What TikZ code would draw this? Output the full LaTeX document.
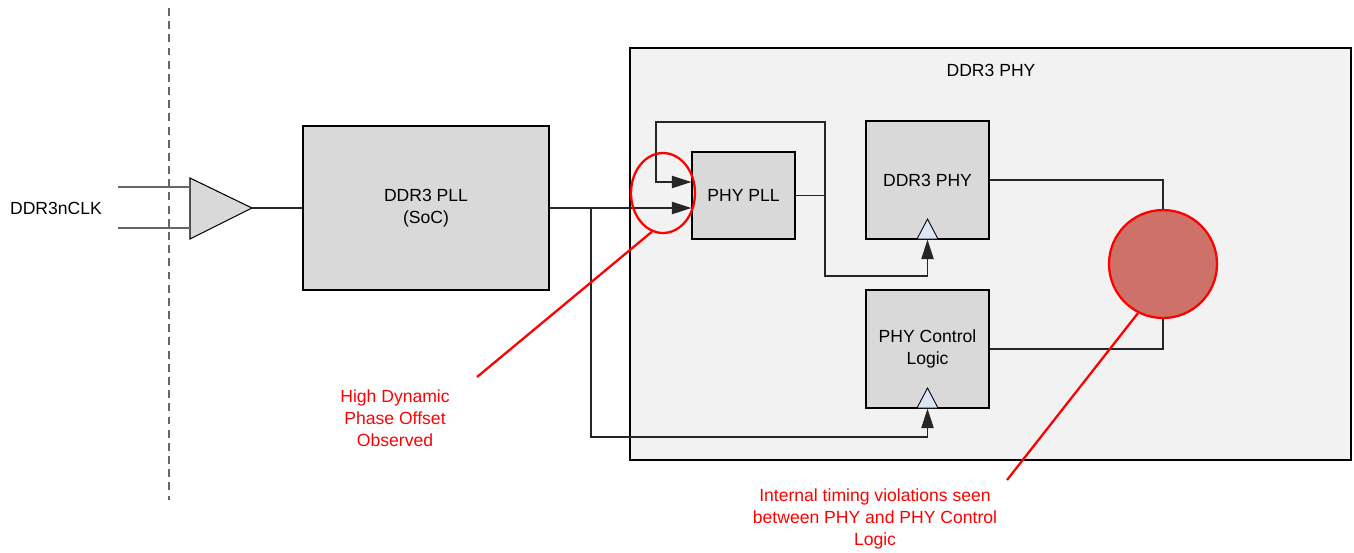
\documentclass[tikz,border=0pt]{standalone}
\usepackage{fontspec}
\setmainfont{Liberation Sans}
\usetikzlibrary{shapes,arrows.meta}
\definecolor{boxgray}{RGB}{217,217,217}
\definecolor{phygray}{RGB}{242,242,242}
\definecolor{clkblue}{RGB}{220,230,242}
\definecolor{hotspot}{RGB}{205,113,105}
\definecolor{warnred}{RGB}{255,0,0}

\begin{document}
\begin{tikzpicture}[x=0.02cm,y=-0.02cm,
  font=\fontsize{10}{12.5}\selectfont,
  block/.style={shape=rectangle,draw=black,fill=boxgray,align=center,inner sep=0pt,line width=0.8pt},
  bigblock/.style={block,line width=1.5pt},
  wire/.style={draw=black!85,line width=0.6pt},
  feed/.style={wire,-{Triangle[length=11pt,width=7pt]}},
  clk/.style={draw=black,fill=clkblue,line width=0.5pt},
  note/.style={align=center,text=warnred},
  redmark/.style={draw=warnred,line width=1.3pt}]
\useasboundingbox (0,0) rectangle (1354,552);

\node[shape=rectangle,draw=black,fill=phygray,inner sep=0pt,line width=1.6pt,minimum width=14.42cm,minimum height=8.24cm] (5) at (990.5,254) {};
\node (20) at (991,70) {DDR3 PHY};

\draw[draw=black!60,line width=0.6pt,dash pattern=on 4.5pt off 3pt] (169,8) -- (169,500);

\node (0) at (56,208) {DDR3nCLK};
\coordinate (1a) at (118,187);
\coordinate (1b) at (118,228);
\coordinate (2) at (252,208);
\draw[draw=black,fill=boxgray,line width=0.6pt] (190,178) -- (2) -- (190,239) -- cycle;
\draw[draw=black!60,line width=0.6pt] (1a) -- (190,187);
\draw[draw=black!60,line width=0.6pt] (1b) -- (190,228);

\node[bigblock,minimum width=4.92cm,minimum height=3.28cm] (4) at (426,208) {DDR3 PLL\\(SoC)};
\node[block,minimum width=2.06cm,minimum height=1.74cm] (6) at (743.5,195.5) {PHY PLL};
\node[block,minimum width=2.46cm,minimum height=2.36cm] (7) at (927.5,180) {DDR3 PHY};
\node[block,minimum width=2.46cm,minimum height=2.36cm] (8) at (927.5,349) {PHY Control\\Logic};

\coordinate (10) at (591,208);
\coordinate (11) at (927.5,437);
\coordinate (12) at (825,122);
\coordinate (13) at (656,182);
\coordinate (14) at (825,276);

\path[wire] (2) -- (4.west);
\path[feed] (4.east) -- (6.west |- 4.east);
\path[feed] (10) |- (11) -- (8.south);
\path[feed] (6.east) -| (12) -| (13) -- (6.west |- 13);
\path[feed] (12) -- (14) -| (7.south);

\draw[clk] (917,239) -- (927.5,219) -- (938,239) -- cycle;
\draw[clk] (917,408) -- (927.5,388) -- (938,408) -- cycle;

\node[shape=circle,draw=warnred,fill=hotspot,line width=1.3pt,inner sep=0pt,minimum size=2.16cm] (9) at (1163,264) {};
\path[wire] (7.east) -| (9.north);
\path[wire] (8.east) -| (9.south);

\node[shape=ellipse,redmark,inner sep=0pt,minimum width=1.28cm,minimum height=1.6cm] (15) at (663,193) {};
\coordinate (16) at (477,377);
\coordinate (18) at (1007,480);
\path[redmark] (15.-106) -- (16);
\path[redmark] (9.-117) -- (18);

\node[note] (17) at (395,418) {High Dynamic\\Phase Offset\\Observed};
\node[note] (19) at (875,519) {Internal timing violations seen\\between PHY and PHY Control\\Logic};
\end{tikzpicture}
\end{document}
